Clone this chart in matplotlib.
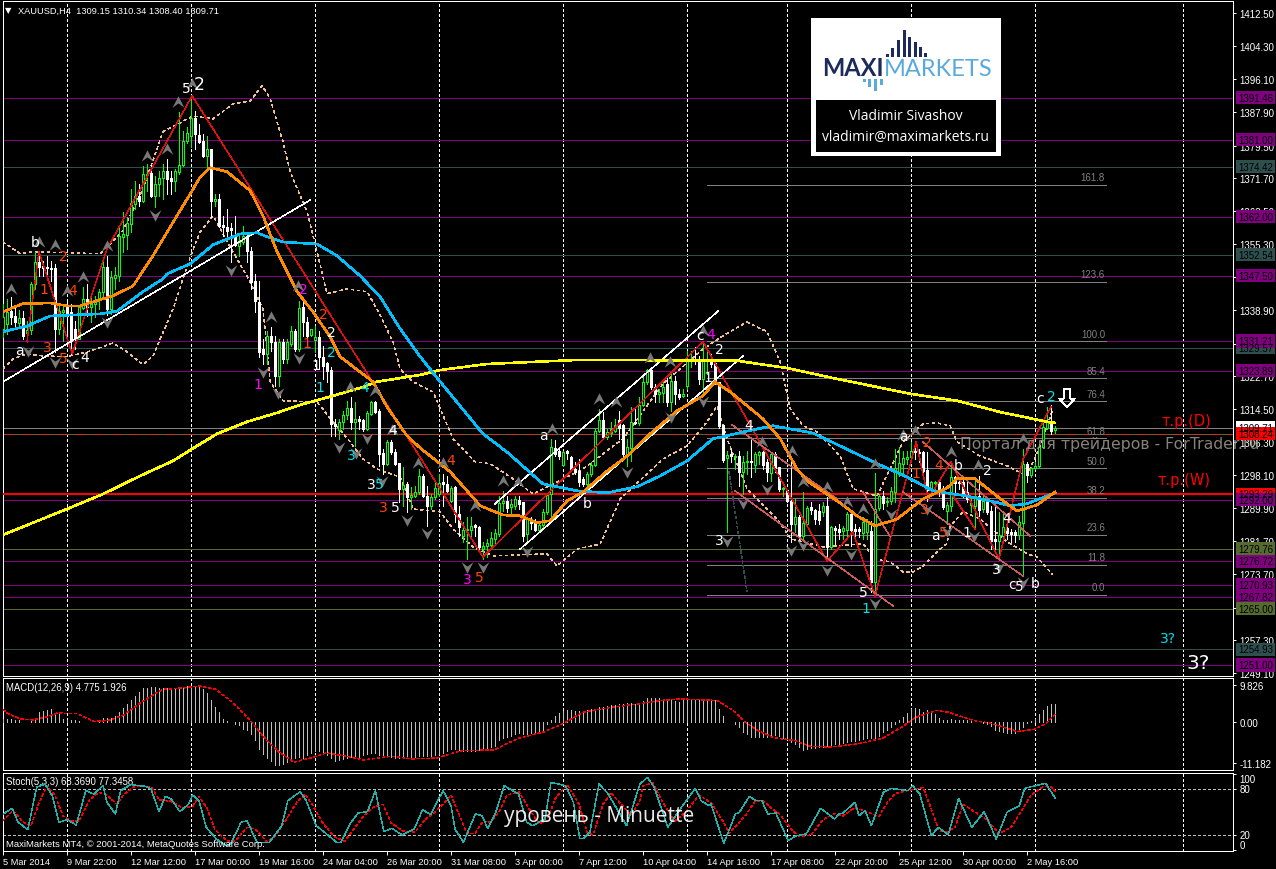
import matplotlib
matplotlib.use('Agg')
import matplotlib.pyplot as plt
from matplotlib.path import Path
from matplotlib.patches import Rectangle

plt.rcParams['font.family'] = ['Liberation Sans', 'DejaVu Sans']
plt.rcParams['lines.antialiased'] = False
plt.rcParams['patch.antialiased'] = False

# H4 candles
opens = [1334.3,1335.5,1338.8,1337.5,1335.8,1337,1333.3,1334,1345.4,1350.9,
 1349.9,1349.6,1349.4,1349.4,1334.3,1338.5,1339.7,1338.5,1334.3,1331.8,
 1339.5,1341.7,1339.7,1340.5,1341.5,1343.5,1349.6,1339.2,1346.9,1347.4,
 1357.1,1357.6,1360.3,1365.2,1367.2,1366,1372.4,1372.9,1367.2,1370.2,
 1371.7,1373.4,1371.7,1370.9,1373.2,1374.9,1380.8,1382,1386.5,1382.3,
 1380.8,1377.1,1378.9,1366,1366.5,1360,1359.5,1359.3,1357.3,1354.8,
 1355.8,1357.3,1353.6,1346.2,1341,1329.3,1328.1,1332.6,1331.1,1322.7,
 1331.1,1326.9,1330.6,1333.8,1329.3,1339.7,1336,1332.8,1331.6,1332.3,
 1327.4,1325.9,1324.1,1310.8,1309.3,1311.3,1313,1314.7,1311.3,1312,
 1311.8,1309.5,1313.2,1316.2,1314,1303.6,1300.9,1306.3,1303.8,1301.1,
 1294.7,1295.9,1292.7,1293,1293.9,1297.9,1292.9,1290.5,1292.7,1293.4,
 1296.4,1295.9,1291.7,1295.2,1288.5,1283,1284.5,1284.5,1285.8,1285.3,
 1279.8,1280.6,1280.8,1282.3,1283.5,1291.2,1291.7,1290.2,1290.5,1292,
 1291.5,1283.5,1287.2,1286.3,1284.5,1285.8,1289,1293.4,1304.8,1304.1,
 1300.6,1304.1,1302.6,1299.6,1299.1,1297.2,1295.9,1298.4,1300.6,1309,
 1311.8,1307.6,1308.5,1309,1311.8,1310.5,1303.3,1304.8,1311.3,1311,
 1315.5,1321.2,1324.1,1319.9,1318.2,1318.4,1320.7,1316.2,1321.4,1318.2,
 1317.7,1320.2,1326.4,1326.9,1326.4,1321.9,1326.4,1326.9,1325.9,1321.2,
 1310.5,1302.4,1303.3,1302.6,1302.9,1298.9,1301.4,1301.6,1300.6,1303.1,
 1303.8,1301.4,1298.6,1303.3,1300.1,1294.7,1294.4,1291.7,1286,1287.7,
 1283,1286,1290.2,1289.5,1289.2,1289,1290.5,1280.3,1285,1284.8,
 1284.3,1284.5,1288.5,1284.8,1284.8,1283.8,1284,1284.3,1271.6,1289.9,
 1292.9,1291.5,1291.7,1293.9,1298.4,1300.9,1302.1,1302.6,1304.1,1303.8,
 1303.8,1299.4,1294.4,1296.2,1296.4,1294.9,1289.2,1290.5,1297.6,1296.4,
 1296.4,1293.9,1290.7,1290.5,1292.9,1289.7,1291.7,1289.2,1282.3,1281.8,
 1283,1285,1284,1284,1283.3,1286.2,1300.9,1298.1,1299.9,1300.4,
 1305.1,1309.8,1311.5,1309.15]
highs = [1340.5,1341.7,1342.2,1340,1339,1338.8,1336.3,1345.9,1353.4,1353.6,
 1351,1352.4,1351.1,1350.4,1340,1340.5,1341.2,1340.5,1336.3,1339.7,
 1344.7,1345.4,1342.5,1342.5,1344.2,1350.9,1352.4,1348.7,1349.6,1359.5,
 1363.3,1362,1369,1370.9,1370.2,1374.7,1375.1,1374.9,1372.2,1373.4,
 1375.1,1376.4,1373.4,1373.9,1388,1383.3,1384.3,1392,1388.3,1385,
 1382.6,1382.1,1378.9,1367.7,1367.7,1362.3,1364,1360.5,1362.3,1357.3,
 1359.8,1357.8,1354.6,1347.9,1346.2,1331.8,1333.8,1334.8,1332.6,1331.8,
 1331.8,1331.8,1335,1334.3,1341.2,1341.7,1337.3,1334.3,1335,1333.8,
 1330.1,1326.1,1324.9,1312,1312,1314,1316.5,1317.5,1316.2,1312.8,
 1312,1314,1316.5,1316.5,1314.5,1304.6,1306.8,1306.8,1304.6,1301.1,
 1300.1,1296.4,1295.2,1295.4,1299.6,1298.4,1295.4,1293.4,1296.7,1298.4,
 1298.4,1297.9,1295.4,1295.4,1290.5,1286.5,1287.7,1287.7,1286,1285.5,
 1281.6,1282.3,1284,1284.8,1292.9,1294.2,1292.9,1292.2,1292.9,1292.9,
 1291.5,1287.7,1287.7,1287.2,1286.3,1289.7,1293.4,1307.1,1306.8,1304.6,
 1304.1,1304.3,1302.8,1301.4,1302.1,1297.6,1298.9,1301.4,1309.5,1314.5,
 1313.7,1309.5,1311.3,1312,1314,1310.8,1307.1,1315,1314.5,1317.5,
 1322.4,1324.4,1324.4,1320.7,1319.4,1321.2,1322.7,1323.9,1322.7,1319.4,
 1319.4,1328.8,1328.8,1329.8,1327.6,1331.1,1328.6,1328.1,1326.4,1321.2,
 1310.5,1304.1,1304.6,1303.3,1304.1,1302.8,1304.1,1307.1,1303.8,1304.1,
 1304.1,1302.1,1303.8,1303.8,1300.1,1295.2,1294.7,1301.6,1292.2,1288.2,
 1293.9,1290.5,1291.5,1289.7,1291,1291.5,1292.7,1285.5,1285.5,1286,
 1285.5,1289,1289,1286,1285.3,1287.7,1287.2,1286.8,1298.6,1293.4,
 1294.2,1292.7,1295.2,1304.6,1305.1,1304.1,1304.1,1306.3,1306.3,1304.6,
 1304.1,1303.8,1296.7,1296.7,1296.7,1295.4,1291.5,1301.4,1297.9,1297.2,
 1297.2,1296.4,1292.9,1297.2,1297.9,1292.9,1292.2,1290.5,1290.5,1289,
 1288.5,1285.5,1284.8,1284.5,1288,1304.6,1301.4,1300.1,1301.4,1305.8,
 1311.3,1315,1315.5,1310.34]
lows = [1332.3,1333.1,1335.5,1334.3,1334.8,1331.8,1331.1,1333.1,1344.2,1347.4,
 1347.4,1347.4,1346.2,1328.6,1333,1331.3,1331,1328.1,1329.3,1331.8,
 1339.2,1337.5,1336,1337.3,1339.2,1341.7,1337.8,1338,1344.2,1346.2,
 1353.4,1354.1,1358.3,1364,1364.7,1365.7,1368.5,1367,1364.5,1367.2,
 1366.5,1367.7,1367.7,1368.5,1372.7,1374.7,1380.3,1379.4,1378.9,1380.3,
 1376.9,1374.4,1362,1364.7,1359.5,1357.3,1356.6,1350.9,1354.8,1352.4,
 1355.3,1350.9,1344.2,1338.5,1327.4,1325.6,1325.6,1328.8,1320.2,1320.2,
 1325.9,1325.9,1330.1,1328.8,1328.8,1332.6,1331.1,1332.6,1328.6,1324.4,
 1321.9,1321.2,1307.8,1307.8,1307.1,1309.5,1312,1309.5,1305.3,1309.5,
 1309,1309.3,1313,1313.5,1300.4,1298.4,1300.6,1303.3,1300.6,1291.5,
 1290.5,1289,1289.7,1292.7,1293.4,1292.7,1285.5,1289.7,1292.2,1292.9,
 1290.5,1293.9,1291.5,1286.5,1283,1281.6,1277.3,1283,1283,1279,
 1277.3,1277.8,1279.8,1281,1283,1289.2,1289,1288.5,1289.7,1289.7,
 1281.8,1281.6,1284.8,1284.3,1284,1285.3,1288.5,1286.5,1302.8,1302.1,
 1300.4,1302.1,1299.1,1298.4,1295.4,1295.4,1295.4,1297.9,1300.4,1308.8,
 1307.1,1307.1,1307.8,1308.8,1307.1,1302.8,1300.4,1301.6,1310.8,1310.5,
 1315.2,1320.7,1319.4,1316.2,1316.2,1316.2,1315.2,1314,1315.7,1317,
 1317.5,1319.4,1324.9,1325.6,1320.7,1318.7,1323.1,1324.9,1320.7,1309.8,
 1301.4,1284,1301.4,1299.6,1295.4,1293.4,1298.4,1297.6,1298.9,1300.9,
 1299.6,1296.7,1296.7,1298.9,1294.2,1293,1291.5,1281.6,1284,1282.3,
 1282.3,1285.5,1288.5,1286,1286,1288,1278.1,1279.8,1281,1282.3,
 1282.3,1282.3,1280.6,1282.3,1282.8,1282.3,1282.3,1269.2,1268.2,1289.5,
 1289.7,1290.5,1291,1291.5,1297.9,1297.9,1300.9,1302.1,1302.1,1301.4,
 1297.2,1291.7,1293.4,1294.7,1293,1289.7,1286,1289.2,1293.4,1294.7,
 1292.7,1291.5,1289,1284.8,1288,1289,1288.5,1279.8,1279.3,1277.3,
 1281.6,1282.3,1281.6,1281.6,1282.3,1273.1,1296.4,1297.6,1299.6,1300.1,
 1304.8,1309.5,1308.3,1308.4]
closes = [1337.3,1338.5,1337.3,1336,1337,1332.6,1334,1345.4,1350.9,1349.6,
 1349.4,1349.4,1349.1,1334.3,1338.7,1339,1337.5,1331.3,1332.1,1339.7,
 1341.7,1339.7,1340.5,1341.5,1343.5,1349.6,1339.2,1347.2,1347.7,1357.3,
 1357.8,1360.5,1365.5,1367.2,1366,1372.7,1372.7,1367.2,1370.2,1371.7,
 1373.4,1371.4,1370.9,1373.4,1374.9,1380.8,1382.8,1386.5,1382.6,1380.6,
 1377.1,1378.9,1366,1366.5,1359.8,1359.5,1358.6,1358.8,1355.1,1356.1,
 1357.3,1353.6,1345.9,1341.2,1328.6,1328.1,1332.6,1331.1,1322.7,1331.1,
 1326.9,1331.1,1333.8,1329.3,1339.5,1336,1332.6,1334.3,1332.3,1327.4,
 1325.1,1323.9,1310.8,1310.3,1311.3,1313,1314.7,1311.3,1312,1311.5,
 1309.5,1313.5,1316.2,1313.7,1303.3,1300.9,1306.3,1303.8,1300.9,1294.7,
 1295.7,1292.7,1293.2,1293.9,1297.9,1292.9,1290.5,1292.7,1294.9,1296.2,
 1295.9,1294.2,1294.9,1288.5,1285.3,1284.5,1284.8,1285.5,1285.3,1280.3,
 1280.6,1281.3,1282.5,1283.8,1291.2,1291.7,1290,1291,1292.2,1291,
 1283,1287.2,1286.3,1284.5,1285.8,1289,1293.2,1305.1,1303.3,1302.8,
 1303.8,1303.6,1299.6,1298.9,1296.4,1295.9,1298.4,1300.6,1309,1311.8,
 1307.6,1308.8,1309.5,1310.5,1309.8,1303.3,1305.1,1311.3,1311,1315.5,
 1321.2,1324.1,1319.9,1318.2,1318.7,1319.9,1316.2,1321.4,1318.2,1317.5,
 1318.2,1326.4,1326.9,1326.4,1321.9,1326.6,1326.9,1325.6,1321.2,1310.3,
 1301.9,1303.1,1302.9,1302.9,1298.9,1301.4,1301.6,1301.4,1303.3,1303.8,
 1300.6,1298.9,1303.3,1299.9,1294.7,1294.9,1291.7,1286,1287.7,1283,
 1286.3,1290,1289.5,1287.2,1287,1290.5,1280.3,1285.3,1284.5,1284,
 1285,1288.5,1284.5,1284.3,1284.3,1286.5,1286.5,1271.6,1289.7,1292.9,
 1291.2,1291.7,1294.2,1299.9,1301.1,1302.4,1302.6,1304.1,1303.8,1303.6,
 1299.1,1294.4,1296.4,1296.4,1294.7,1290.2,1290.7,1297.6,1296.2,1296.2,
 1293.4,1292.2,1291.2,1292.9,1289.5,1291.7,1289,1281.8,1281.8,1283.3,
 1285.3,1283.8,1283.5,1283.3,1286.5,1300.9,1298.1,1299.9,1300.4,1305.1,
 1310,1311.5,1309,1309.71]

# moving averages as (bar, price) vertices
yellow_x = [0,16,25,34.3,42.5,47.3,53.5,61,68.5,74.3,82.5,90,93.5,104.3,109.3,121,143.5,156,171,183.5,196,208.5,227,238.5,249.3,261,263]
yellow_y = [1283.3,1289.7,1293.4,1297.9,1301.6,1304.6,1308.3,1311.3,1313.5,1315.5,1317.7,1319.9,1321.2,1322.9,1324.1,1325.6,1326.6,1326.6,1326.4,1326.4,1324.6,1321.9,1318.2,1316.5,1313.7,1311.3,1311]
orange_x = [0,4.8,11.8,16,19.3,27.5,32.5,37.5,43.5,46.8,49.3,51.8,56,61.8,65,68.5,73.5,77.5,81.8,84.3,89.3,92.5,96,101,104.3,111.8,119.3,125,129.3,133.5,136.8,141,145,151,156,161.8,168.5,175,178,181.8,190,194.3,198.5,201,209.3,213.5,218,223.5,230,236,238.5,243,248.5,253.5,258.5,263]
orange_y = [1338.5,1340.5,1340.7,1340,1340,1342.5,1344.9,1352.4,1362.3,1367.7,1371.9,1374.2,1373.2,1368.5,1362.3,1353.4,1343.5,1338.5,1332.3,1327.4,1323.6,1321.2,1315,1307.8,1304.8,1298.9,1290.5,1288.2,1288,1286.3,1286.8,1291.7,1293.9,1299.1,1302.8,1308.3,1314,1317.7,1321.2,1318.7,1312,1307.1,1299.6,1296.7,1291.2,1288,1285.5,1287.2,1292.2,1294.9,1297.2,1297.2,1292.9,1289.2,1290.7,1293.9]
blue_x = [0,6,11.8,24.3,28.5,35,40,41,46.8,52.5,59.3,63.5,66,70,78.5,83.5,89.3,94.3,99.3,104.3,109.3,120,126,135,143.5,151,158.5,164.3,171,177.5,180,186,192.5,202.5,209.3,217.5,226,232.5,241,246.8,251.8,256,261,263]
blue_y = [1333.6,1335,1337.5,1338,1338.7,1343.5,1346.7,1347.9,1350.4,1355.1,1357.8,1358.1,1357.1,1355.8,1355.3,1352.4,1347.4,1342.2,1334.3,1327.4,1321.2,1308.3,1303.8,1295.9,1294.2,1293.7,1295.2,1297.9,1301.6,1307.1,1307.6,1309,1310.3,1308.5,1305.3,1301.4,1297.6,1294.2,1292.9,1291.7,1290.5,1291,1292.9,1293.7]

# envelope bands
upper_x = [0,4.3,7.5,24.3,30,35,40,47.5,52.5,57.5,61.8,64.8,66.8,70,71.8,76,78.5,81,86,91,93.5,97.5,99.3,102.5,107.5,112.5,118,121.8,127.5,132.5,145,155,165,175,180,186,191,194.3,196.8,200,203.5,209.3,212.5,218.5,225,230,233.5,236.8,238.5,244.3,251,256,259.3,262.5]
upper_y = [1355.8,1352.9,1353.4,1352.9,1358.6,1369,1383.1,1387,1386.3,1390,1390.7,1394.5,1391.2,1380.6,1373.2,1363.3,1353.4,1343,1344.2,1343.5,1339.2,1331.1,1324.4,1321.2,1318.7,1307.1,1301.4,1300.9,1297.2,1293.4,1299.6,1307.1,1320.7,1329.3,1332.6,1336,1333.6,1326.1,1314.5,1310.3,1308.8,1302.8,1294.7,1292.9,1306.3,1310.8,1311,1310.3,1306.3,1302.8,1300.4,1297.9,1305.3,1314.5]
lower_x = [0,2.5,6,10,16,21.8,27.5,31,35,37.5,42.5,45,47.3,49.3,52.5,57.5,61.8,65,66.8,70,78.5,82.5,86.8,90,93.5,99.3,102.5,109.3,112.5,117.5,122.5,136,138.5,143.5,149.3,154.3,165,171,176,178.5,181,186,193.5,197,205,215,218,221.8,225,227.5,230,234.3,236,236.8,240,244.3,251,256,258.5,262.3]
lower_y = [1324.4,1326.9,1328.1,1327.6,1327.4,1328.8,1330.8,1328.6,1325.4,1327.6,1339.2,1346.7,1353.4,1358.3,1362.3,1353.4,1345.9,1339.2,1321.2,1316.5,1316.2,1311.3,1306.3,1302.1,1299.6,1297.6,1289.7,1289,1284.8,1280.3,1278.1,1278.6,1275.6,1279.8,1281,1292.2,1302.1,1305.3,1311.3,1315.2,1307.1,1294.7,1287.2,1282.3,1280.3,1281.1,1277.3,1276.6,1274.1,1274.1,1275.6,1279.8,1281.1,1285.5,1289,1287.2,1281.6,1278.6,1277.8,1273.6]

# horizontal levels
purple_levels = [1391.46,1381.00,1362.00,1347.50,1331.21,1323.89,1292.00,1276.72,1270.93,1267.82,1251.00]
teal_levels = [1374.42,1352.54,1329.57,1254.93]
olive_levels = [1308.24,1279.76,1265.00]
thick_red_level = 1293.29
dashed_red_level = 1308.24
bid = 1309.71

# fibonacci grid
fib_levels = [0.0,11.8,23.6,38.2,50.0,61.8,76.4,85.4,100.0,123.6,161.8]
fib_low = 1268.5
fib_high = 1331.2

# zigzag, channels
zigzag_x = [6,9,17.3,26,47.3,120,175,206,212.5,218,228.3,231.3,237,249,255,262]
zigzag_y = [1331.1,1353.4,1328.1,1354.1,1392,1277.8,1331.1,1276.8,1284,1268.2,1306.3,1292.2,1301.4,1277.3,1302,1315]
white_channels = [(0,1321.2,76.8,1366.2),(123,1291,178.8,1338.7),(129.3,1279.8,185,1327.6)]
pink_channels = [(182.3,1310.5,208.5,1292.2),(183,1294.2,222.5,1265.7),(215,1293.9,221.8,1282.8),(230,1306.3,256.8,1283),(225,1293.9,255,1273.1)]

# fractal arrows
up_x = [2,9,13,16,20,26,36,41,43.8,47.3,73.8,67,86.8,93,97.3,103.8,110,118,125,128.8,137.3,149,153.3,161.8,166.8,175,189.8,197.3,200,206,211,215,218,225,228,237,243.8,255]
up_y = [1344.2,1355.8,1355.1,1343.7,1347.2,1354.8,1377.1,1378.9,1390.5,1395,1344.9,1337.3,1319.9,1318.9,1309.3,1301.1,1301.1,1290.5,1296.7,1296.4,1309.5,1317,1316.2,1327.1,1326.1,1333.8,1306.3,1304.1,1296.4,1295.2,1291.5,1289.7,1300.9,1308,1309,1303.8,1300.6,1307.1]
down_x = [38,57,6.3,13,17.3,26,65,68.8,74,84,88.3,91,94.8,101,106,116,120,131,156,175,167,181,185,191,197,200,206,212,218,222,231,236,242.8,249,255]
down_y = [1362.5,1348.9,1328.8,1326.1,1325.9,1336,1323.6,1318.4,1327.1,1305.1,1303.6,1307.3,1296.7,1287,1283.8,1275.4,1275.4,1279.3,1298.9,1316.5,1312.5,1281.8,1291.2,1294.7,1279.6,1280.8,1274.6,1278.6,1266.4,1288.5,1289.7,1284.3,1283,1275.4,1271.7]

# wave counts
white_waves = [('b',8,1355.8),('a',4,1329.1),('c',18,1325.6),('4',20.3,1327.4),('5',45.8,1394),('2',82,1333.5),('1',78.3,1325.4),('4',97.3,1309.3),('3',92,1295.9),('5',98,1290.2),('a',135,1308),('b',146,1291.2),('c',174.3,1332.8),('2',179,1329.3),('1',176.3,1322.4),('4',186.3,1310.5),('3',179,1282),('5',215,1269.2),('a',225,1307.8),('b',238.8,1300.6),('2',246,1299.4),('a',233,1283.3),('1',241,1284),('4',250.8,1287.5),('3',248.3,1274.9),('c',252.3,1271.2),('5',254,1270.7),('b',258,1271.4),('c',259.3,1317.2)]
orange_waves = [('1',10.3,1344.2),('2',15,1352.4),('4',17.3,1344),('3',11,1329.8),('5',15,1327.1),('2',80,1338),('1',76,1330.8),('3',95,1290.2),('4',112,1301.9),('5',119,1272.9),('2',231,1306.3),('1',228.3,1298.6),('4',234,1300.6),('3',230.3,1289.7),('5',235,1284)]
magenta_waves = [('2',75,1344.2),('1',63.8,1320.7),('3',116,1272.4),('4',176.8,1333)]
cyan_waves = [('2',82,1328.6),('1',79.3,1319.9),('4',90.3,1319.9),('3',87,1303.1),('5',94,1295.9),('1',215.8,1265.2),('2',262,1317.7),('3?',291.3,1257.8)]

# MACD
macd_hist = [.7,.7,.7,.5,.3,0,0,.3,.7,2.5,
 2.8,3.2,3.4,2.3,1.9,.7,.3,.3,.3,.2,
 0,0,0,0,.3,.9,.9,1,1.6,2.7,
 3.7,4.8,5.9,6.9,7.9,9,9.2,9.4,9.3,9,
 9,9,9,8.8,9.1,9.4,9.7,9.7,9.6,9.3,
 8.8,7.8,5.7,3.9,2.5,.7,.2,-.2,-.6,-1,
 -2,-2.4,-3.3,-5.1,-7.4,-8.7,-10,-10.8,-11.7,-11.7,
 -11.6,-11,-10.2,-9.8,-9.6,-9.8,-9,-8.5,-8,-8,
 -8.6,-9.2,-10,-10.6,-10.5,-10.2,-10,-9.7,-9.5,-9.5,
 -9,-8.8,-8.6,-8.6,-9,-9.2,-9.3,-9.5,-9.8,-10,
 -10,-10,-9.7,-9.6,-9.4,-9.3,-9.3,-9.3,-9,-8.7,
 -8.5,-8,-7.5,-7.5,-7.7,-8,-8,-8,-7.9,-7.8,
 -7.6,-7.4,-7,-6.5,-5,-4.6,-4.1,-3.9,-3.5,-3.2,
 -3.4,-3.4,-3.1,-3,-2.9,-2.2,-.8,.5,1.6,2.4,
 2.9,3,3,2.9,2.8,2.9,3,3.3,3.5,3.8,
 4,4.3,4.4,4.5,4.7,4.7,4.9,4.9,4.7,4.9,
 5.5,6.3,6.4,6.4,6.3,6.1,6,5.9,5.5,5.2,
 5.9,5.7,5.9,5.9,5.9,5.9,5.9,5.9,5.9,3.4,
 1.6,0,-.2,-.8,-1.4,-2.8,-3.5,-4.1,-4.3,-4.3,
 -4.3,-4.1,-4,-3.6,-4,-4.4,-4.6,-5.5,-6.2,-6.8,
 -7.6,-7.5,-7.3,-7.2,-7,-6.9,-6.7,-6.4,-6.2,-6,
 -5.8,-5.6,-5.4,-5.2,-5,-4.8,-4.6,-4.6,-4.4,-3.8,
 -2.9,-2.2,-1.5,-.6,.3,1.2,2.4,3.4,3.6,3.4,
 2.7,3,2.5,2.1,.9,.3,.5,.6,.5,.4,
 .3,.3,.1,0,-.1,-.3,-.8,-1.3,-2.4,-2.7,
 -2.9,-3,-3.1,-3,-2.7,-1.5,-.4,.2,.7,2.1,
 3,4.3,4.8,4.775]
macd_sig_x = [0,1.3,4.4,7.4,11.5,13.5,18.6,22.7,26.3,30,34,38,40,45,49,53,57.4,61.5,65.6,68.6,72.7,76.8,80.9,86,90.1,97.2,102.3,108.4,114.6,122.7,128.9,135,140,145,152.3,159.3,164.3,169.4,178.5,182.5,185.6,188.6,192.8,197.8,201.8,207,214,220,225.3,228.3,233.3,236.3,242.6,247.5,253.5,257.6,260.7,263]
macd_sig_y = [3.2,2.1,.7,.45,1.4,2.3,2.1,0,.3,1.6,4.8,7.5,8.7,9.1,9.6,8.8,5.2,.7,-4.7,-7.9,-11,-9.9,-8.5,-9.4,-10.4,-9.4,-10.1,-9.9,-7.9,-7.7,-4.5,-2.9,-.6,2.5,3.9,4.8,5.7,6.1,5.7,3,-.2,-2.4,-4.4,-5.1,-6.7,-6.9,-6,-4.5,-1.1,1.2,3,2.5,.3,-.6,-2.7,-2.2,-.6,1.926]

# Stochastic
stoch_x = [0,2.3,3.8,6.2,8.4,10.5,12.3,14,16.1,18.3,20.7,22.7,25,26,28.1,29.4,31.9,35.5,37,39,40.6,42.1,44.2,46.4,47.4,49,50.8,53.3,55.9,56.9,59.5,61,63.5,66.6,69.7,71.2,74.3,75.8,78.3,80.9,83.4,84.5,87,88.8,91.1,93.1,95.2,97.2,99.8,102.8,104.9,106.9,110,112,113,115.1,118.1,119.7,121.2,123.2,125.3,128.9,130.9,132.4,135.5,137,140.6,142.6,144.2,145.2,146.7,149,151.3,155.9,159.25,161.1,162.8,166.2,169.9,173.1,174.5,176.5,177,180.2,183.1,184.1,186.6,188.2,189.7,191.2,193.2,196.3,198.3,200.8,204.4,207.9,209,210,213,214,215.5,217.1,220.1,222.1,226.2,227.4,229.2,232.1,233.8,236.3,238.9,242.2,245.3,248.3,251,254.1,255.4,258.1,260.7,263]
stoch_y = [47.4,54.8,36.5,27,82.2,86.5,71.3,36.5,40,33,77.8,73.5,84.3,62.6,47.4,77.8,85.7,83.5,80,50.4,70.4,67,50.4,60.4,72.2,64.8,30,14.8,6.1,8.3,36.5,38.7,10.4,10.4,32.2,64.8,76.5,64.8,32.2,21.3,10.4,10.4,36.5,48.7,50.4,77.8,24.3,28.7,20,27.8,53,46.5,77.8,58.3,27.8,10.4,47.4,45.2,28.7,49.6,84.3,73.5,36.5,32.2,40.9,88.7,84.3,62.6,15.6,15.6,23.5,86.5,73.5,32.2,86.5,95.2,82.2,30,58.3,80.9,64.8,58.3,60.4,9.1,47.4,49.6,70.4,64.8,64.8,47.4,48.7,12.6,19.1,21.3,54.8,40.9,47.4,48.7,62.6,45.2,51.7,32.2,75.7,80.9,77.8,84.3,73.5,19.1,30,20.4,67.8,30,50.4,14.8,49.6,58.3,80.9,84.3,87.4,68.37]
stoch_sig_x = [0,2.5,5,7,9,11,13,15,17,19,21.5,24,26,28.5,30,33,37,39,42,45,47.5,49,51,53,56,58,61,63,66,68,71,73.5,75.5,77.5,80,83,85.5,88,90,92.5,95,97,100,103,105.5,108,110,112,114,116,118,120,122,124,126,129,132,134,136,138,141,144,146,147.5,150,152,157,159.25,160,162.5,165,168,171,174,177,180,181.5,184,186,188,190,192,194,197,199,202,205,208,210,213,215,217,219,221,223,226,228,230,232,234,236,238,240,243,246,249,252,255,257,260,262,263]
stoch_sig_y = [38.7,52,37,32,62,84,72,45,38,38,65,76,72,60,72,84,83,66,64,55,58,70,55,27,12,12,30,28,11,18,42,63,73,58,35,17,12,30,44,56,60,36,25,24,40,50,60,72,47,22,22,38,37,50,72,76,50,35,38,67,86,60,24,20,60,75,46,65,84,88,62,38,52,72,62,38,22,36,48,64,65,55,48,28,18,20,40,48,45,56,52,48,44,62,74,78,80,82,55,26,24,30,60,50,40,22,30,55,72,83,83,77.35]

# axes ticks and labels
price_ticks = [1412.5,1404.3,1396.1,1387.9,1379.5,1371.7,1363.5,1355.3,1347.1,1338.9,1330.5,1322.7,1314.5,1306.3,1298.1,1289.9,1281.7,1273.7,1265.3,1257.3,1249.1]
date_labels = ['5 Mar 2014','9 Mar 22:00','12 Mar 12:00','17 Mar 00:00','19 Mar 16:00','24 Mar 04:00','26 Mar 20:00','31 Mar 08:00','3 Apr 00:00','7 Apr 12:00','10 Apr 04:00','14 Apr 16:00','17 Apr 08:00','22 Apr 20:00','25 Apr 12:00','30 Apr 00:00','2 May 16:00']
date_ticks = [16 * k for k in range(len(date_labels))]
week_grid = [16,47,78,109,140,171,196,227,258,295]

W, H = 1276, 870
LEFT, RIGHT = 3, 1233
THIN = 0.7    # flat and vertical rules, one pixel
FINE = 0.3    # slanted lines, aliased drawing fattens them


def panel(top, bottom, ymin, ymax):
    ax = fig.add_axes([LEFT / W, 1 - bottom / H, (RIGHT - LEFT) / W, (bottom - top) / H])
    ax.set_facecolor('black')
    ax.set_xlim(0, 307.5)
    ax.set_ylim(ymin, ymax)
    for s in ax.spines.values():
        s.set_color('white')
        s.set_linewidth(THIN)
    ax.yaxis.tick_right()
    ax.tick_params(colors='white', labelsize=7, length=2.5, width=THIN, pad=2)
    ax.set_xticks([])
    for g in week_grid:
        ax.axvline(g, color='white', lw=THIN, ls=(0, (2.2, 2.2)), zorder=1)
    return ax


def fractal(up):
    s = 1 if up else -1
    return Path([(0, s), (0.95, -0.85 * s), (0, -0.15 * s), (-0.95, -0.85 * s), (0, s)],
                [Path.MOVETO, Path.LINETO, Path.LINETO, Path.LINETO, Path.CLOSEPOLY])


def waves(ax, rows, color, size=10):
    for label, bar, price in rows:
        ax.text(bar, price, label, color=color, fontsize=size, ha='center', va='center',
                family=['DejaVu Sans'], zorder=7)


fig = plt.figure(figsize=(W / 100, H / 100), dpi=100, facecolor='black')

ax = panel(2, 677, 1248.35, 1415.47)
ax.set_yticks(price_ticks)
ax.set_yticklabels(['%.2f' % p for p in price_ticks])

for p in purple_levels:
    ax.axhline(p, color='#800080', lw=THIN, zorder=2)
for p in teal_levels:
    ax.axhline(p, color='#2f4f4f', lw=THIN, zorder=2)
for p in olive_levels:
    ax.axhline(p, color='#556b2f', lw=THIN, zorder=2)
ax.axhline(dashed_red_level, color='#c8321e', lw=THIN, ls=(0, (12, 7)), zorder=2)
ax.axhline(bid, color='#808080', lw=THIN, zorder=2)
ax.axhline(thick_red_level, color='red', lw=1.1, zorder=3)

for lev in fib_levels:
    price = fib_low + (fib_high - fib_low) * lev / 100
    ax.plot([176, 275.75], [price, price], color='#808080', lw=THIN, zorder=2)
    ax.text(275.5, price + 0.6, '%.1f' % lev, color='#808080', fontsize=7, ha='right', va='bottom', zorder=3)
ax.plot([181.5, 186], [1298.9, 1269.2], color='#2f4f4f', lw=FINE, ls=(0, (7, 7)), zorder=2)

# candles
for i in range(len(opens)):
    up = closes[i] >= opens[i]
    c = '#00ff00' if up else 'white'
    ax.plot([i, i], [lows[i], highs[i]], color=c, lw=THIN, zorder=4, solid_capstyle='butt')
    ax.bar(i, max(abs(closes[i] - opens[i]), 0.2), bottom=min(opens[i], closes[i]), width=0.5,
           facecolor='black' if up else 'white', edgecolor=c, linewidth=THIN, zorder=5)

ax.plot(upper_x, upper_y, color='#f0c090', lw=FINE, ls=(0, (7, 8)), zorder=3)
ax.plot(lower_x, lower_y, color='#f0c090', lw=FINE, ls=(0, (7, 8)), zorder=3)
ax.plot(yellow_x, yellow_y, color='#ffff00', lw=1.15, zorder=6)
ax.plot(blue_x, blue_y, color='#00bfff', lw=1.15, zorder=6)
ax.plot(orange_x, orange_y, color='#ff8c00', lw=1.15, zorder=6)

ax.plot(zigzag_x, zigzag_y, color='#e01010', lw=FINE, zorder=5)
ax.plot([237.5, 243], [1293, 1284.8], color='#e01010', lw=FINE, zorder=5)
for x0, y0, x1, y1 in white_channels:
    ax.plot([x0, x1], [y0, y1], color='white', lw=FINE, zorder=5)
for x0, y0, x1, y1 in pink_channels:
    ax.plot([x0, x1], [y0, y1], color='#cd5c5c', lw=FINE, zorder=5)

ax.scatter(up_x, up_y, marker=fractal(True), s=80, color='#787878', linewidths=0, zorder=6)
ax.scatter(down_x, down_y, marker=fractal(False), s=80, color='#787878', linewidths=0, zorder=6)

arrow = Path([(-0.35, 1), (0.35, 1), (0.35, 0), (0.8, 0), (0, -0.85), (-0.8, 0), (-0.35, 0), (-0.35, 1)])
ax.scatter([266], [1317], marker=arrow, s=190, facecolors='none', edgecolors='white', linewidths=0.6, zorder=7)

waves(ax, white_waves, 'white')
waves(ax, orange_waves, '#ff4500')
waves(ax, magenta_waves, '#ff00ff')
waves(ax, cyan_waves, '#00e0e8')
ax.text(49, 1395, '2', color='white', fontsize=12.5, ha='center', va='center', family=['DejaVu Sans'], zorder=7)
ax.text(298.8, 1251.6, '3?', color='white', fontsize=14.5, ha='center', va='center', family=['DejaVu Sans'], zorder=7)

# price boxes on the right edge
boxes = [(thick_red_level, 'red'), (bid, 'white'), (dashed_red_level, 'red')]
boxes += [(p, '#800080') for p in purple_levels]
boxes += [(p, '#2f4f4f') for p in teal_levels]
boxes += [(p, '#556b2f') for p in olive_levels if p != dashed_red_level]
order = {1329.57: 1, 1254.93: 1}
for p, color in sorted(boxes, key=lambda b: order.get(b[0], 2)):
    ax.add_patch(Rectangle((1.0024, p - 1.55), 39 / 1230, 3.25, transform=ax.get_yaxis_transform(),
                           facecolor=color, edgecolor='none', clip_on=False, zorder=8))
    ax.text(1.0024 + 19.5 / 1230, p, '%.2f' % p, transform=ax.get_yaxis_transform(), color='black',
            fontsize=7, ha='center', va='center', clip_on=False, zorder=9)

# MACD
ax2 = panel(679, 771, -13.13, 11.78)
ax2.vlines(range(len(macd_hist)), 0, macd_hist, color='#c0c0c0', lw=THIN, zorder=3)
ax2.plot(macd_sig_x, macd_sig_y, color='red', lw=FINE, ls=(0, (6, 6)), zorder=4)
ax2.set_yticks([9.826, 0, -11.182])
ax2.set_yticklabels(['9.826', '0.00', '-11.182'])
ax2.text(3.5 / 1230, 0.9, 'MACD(12,26,9) 4.775 1.926', transform=ax2.transAxes, color='white', fontsize=6.9, va='center')

# Stochastic
ax3 = panel(774, 852, -0.87, 100.87)
for lev in [20, 80]:
    ax3.axhline(lev, color='#c0c0c0', lw=THIN, ls=(0, (2.2, 2.2)), zorder=2)
ax3.plot(stoch_sig_x, stoch_sig_y, color='red', lw=FINE, ls=(0, (6, 6)), zorder=3)
ax3.plot(stoch_x, stoch_y, color='#20b2aa', lw=FINE, zorder=4)
ax3.set_yticks([100, 80, 20, 0])
ax3.set_yticklabels(['100', '80', '20', '0'])
for t, va in zip(ax3.get_yticklabels(), ['top', 'center', 'center', 'bottom']):
    t.set_va(va)
ax3.set_xticks(date_ticks)
ax3.set_xticklabels(date_labels, ha='left')
ax3.tick_params(axis='x', length=3, pad=1.5, labelsize=6.7)
ax3.text(3.5 / 1230, 0.9, 'Stoch(5,3,3) 68.3690 77.3458', transform=ax3.transAxes, color='white', fontsize=6.9, va='center')
ax3.text(3.5 / 1230, 0.09, 'MaxiMarkets MT4, © 2001-2014, MetaQuotes Software Corp.', transform=ax3.transAxes,
         color='white', fontsize=6.8, va='center', zorder=6)


def label(px, py, s, **kw):
    fig.text(px / W, 1 - py / H, s, va='center', zorder=20, **kw)


label(5, 10.5, '▼', color='white', fontsize=6, family=['DejaVu Sans'])
label(17.5, 11, 'XAUUSD,H4  1309.15 1310.34 1308.40 1309.71', color='white', fontsize=6.7)
label(1187, 422, 'т.р.(D)', color='red', fontsize=10.5, ha='center', family=['DejaVu Sans'])
label(1184, 481, 'т.р.(W)', color='red', fontsize=10.5, ha='center', family=['DejaVu Sans'])
label(960, 445, 'Портал для трейдеров - ForTrader.ru', color='#a09890', alpha=0.85, fontsize=11.3, family=['DejaVu Sans'])
label(599, 817, 'уровень - Minuette', color='white', alpha=0.92, fontsize=15, ha='center', family=['Open Sans'])

# sponsor badge
logo = fig.add_axes([811 / W, 1 - 157 / H, 190 / W, 138 / H], zorder=15)
logo.set_xlim(811, 1001)
logo.set_ylim(157, 19)
logo.axis('off')
logo.add_patch(Rectangle((811, 19), 190, 138, facecolor='white', edgecolor='none'))
logo.add_patch(Rectangle((816, 101), 180, 52, facecolor='black', edgecolor='none'))
logo_top_x = [887, 892, 898, 904, 909, 915, 920, 925]
logo_top_h = [3, 9, 17, 27, 20, 15, 10, 4]
logo.bar(logo_top_x, logo_top_h, bottom=[57.5 - h for h in logo_top_h], width=3, color='#1c2b5a')
logo_low_x = [864, 869, 875, 881]
logo_low_h = [3, 8, 12, 6]
logo.bar(logo_low_x, logo_low_h, bottom=80, width=3, color='#5aa9dd')
logo.text(884, 69, 'MAXI', color='#1c2b5a', fontsize=17, fontweight='bold', ha='right', va='center', family=['Lato'])
logo.text(884, 69, 'MARKETS', color='#5aa9dd', fontsize=17, ha='left', va='center', family=['Lato'])
logo.text(906, 116, 'Vladimir Sivashov', color='white', fontsize=10, ha='center', va='center', family=['Open Sans'])
logo.text(906, 137.5, 'vladimir@maximarkets.ru', color='white', fontsize=10, ha='center', va='center', family=['Open Sans'])

fig.savefig('out.png', dpi=100, facecolor='black')
